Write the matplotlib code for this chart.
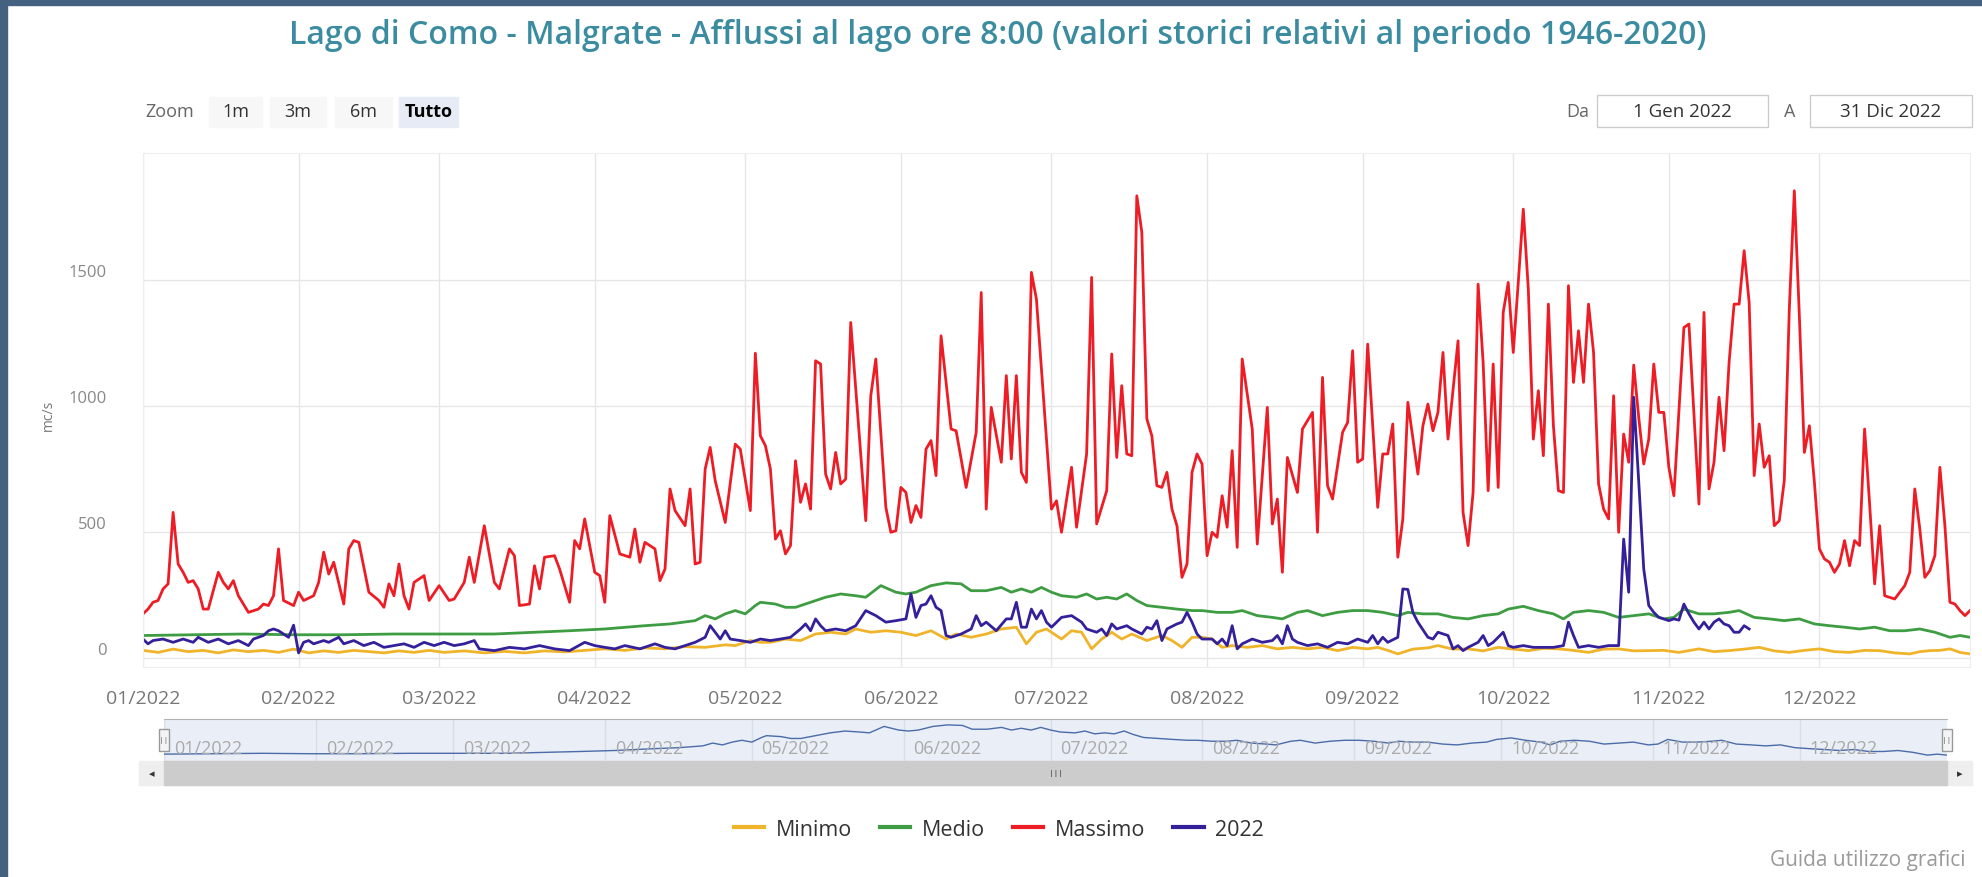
import numpy as np
import matplotlib
matplotlib.use("Agg")
import matplotlib.pyplot as plt
import matplotlib.dates as mdates
from matplotlib.patches import Rectangle

plt.rcParams['font.family'] = ['Open Sans', 'DejaVu Sans']

# --- data (day of year from 1 Jan 2022, value in mc/s) ---
giorni_max = [0, 1, 2, 3, 4, 5, 6, 7, 8, 9, 10, 11, 12, 13, 15, 16, 17, 18, 19, 21, 23, 24, 25, 26, 27, 28,
              30, 31, 32, 34, 35, 36, 37, 38, 40, 41, 42, 43, 45, 47, 48, 49, 50, 51, 52, 53, 54, 56, 57, 59,
              61, 62, 64, 65, 66, 68, 70, 71, 73, 74, 75, 77, 78, 79, 80, 82, 83, 85, 86, 87, 88, 90, 91, 92,
              93, 95, 97, 98, 99, 100, 102, 103, 104, 105, 106, 108, 109, 110, 111, 112, 113, 114, 116, 118,
              119, 121, 122, 123, 124, 125, 126, 127, 128, 129, 130, 131, 132, 133, 134, 135, 136, 137, 138,
              139, 140, 141, 144, 145, 146, 148, 149, 150, 151, 152, 153, 154, 155, 156, 157, 158, 159, 161,
              162, 164, 166, 167, 168, 169, 171, 172, 173, 174, 175, 176, 177, 178, 181, 182, 183, 185, 186,
              188, 189, 190, 192, 193, 194, 195, 196, 197, 198, 199, 200, 201, 202, 203, 204, 205, 206, 207,
              208, 209, 210, 211, 212, 213, 214, 215, 216, 217, 218, 219, 221, 222, 224, 225, 226, 227, 228,
              230, 231, 233, 234, 235, 236, 237, 239, 240, 241, 242, 243, 244, 246, 247, 248, 249, 250, 251,
              252, 254, 255, 256, 257, 258, 259, 260, 262, 263, 264, 265, 266, 267, 268, 269, 270, 271, 272,
              273, 274, 275, 276, 277, 278, 279, 280, 281, 282, 283, 284, 285, 286, 287, 288, 289, 290, 291,
              292, 293, 294, 295, 296, 297, 298, 299, 300, 301, 302, 303, 304, 305, 307, 308, 310, 311, 312,
              313, 314, 315, 316, 317, 318, 319, 320, 321, 322, 323, 324, 325, 326, 327, 328, 329, 330, 331,
              332, 333, 334, 335, 336, 337, 338, 339, 340, 341, 342, 343, 344, 345, 346, 347, 349, 351, 352,
              353, 354, 355, 356, 357, 358, 359, 360, 361, 362, 363, 364]
massimo = [175, 194, 221, 228, 274, 294, 578, 373, 340, 300, 307, 274, 194, 194, 340, 300, 274, 307, 247, 181,
           194, 214, 208, 247, 433, 228, 208, 261, 228, 247, 300, 420, 333, 380, 214, 433, 466, 459, 261, 228,
           201, 294, 247, 373, 247, 194, 300, 327, 228, 287, 228, 234, 300, 400, 300, 525, 300, 274, 433, 406,
           208, 214, 366, 274, 400, 406, 353, 221, 466, 433, 552, 340, 327, 221, 565, 413, 400, 512, 380, 459,
           433, 307, 353, 671, 585, 525, 671, 373, 380, 750, 836, 704, 538, 849, 829, 585, 1210, 882, 843, 750,
           472, 505, 413, 446, 783, 618, 691, 591, 1180, 1167, 730, 671, 816, 691, 710, 1332, 545, 1041, 1187,
           598, 499, 505, 677, 657, 538, 605, 558, 829, 863, 724, 1279, 909, 902, 677, 896, 1451, 591, 995, 777,
           1121, 790, 1121, 737, 697, 1531, 1425, 591, 624, 499, 757, 519, 810, 1511, 532, 664, 1207, 796, 1081,
           810, 803, 1835, 1690, 949, 882, 684, 677, 737, 591, 525, 320, 373, 737, 810, 770, 406, 499, 479, 644,
           519, 823, 439, 1187, 909, 452, 995, 532, 631, 340, 796, 657, 909, 975, 499, 1114, 684, 631, 896, 935,
           1220, 777, 790, 1246, 598, 810, 810, 929, 400, 552, 1015, 730, 922, 1008, 902, 975, 1213, 869, 1259,
           578, 446, 657, 1484, 1173, 664, 1167, 677, 1372, 1491, 1213, 1491, 1782, 1465, 869, 1061, 803, 1405,
           922, 664, 657, 1478, 1094, 1299, 1094, 1405, 1213, 691, 591, 552, 1041, 499, 889, 777, 1163, 955, 770,
           869, 1167, 975, 975, 757, 644, 1312, 1326, 611, 1372, 671, 777, 1035, 823, 1173, 1405, 1405, 1617,
           1412, 724, 929, 757, 803, 525, 545, 704, 1385, 1855, 1359, 816, 922, 697, 433, 393, 380, 340, 373,
           466, 366, 466, 446, 909, 611, 294, 525, 247, 234, 287, 340, 671, 512, 320, 347, 406, 757, 525, 221,
           214, 188, 168, 188]

giorni_medio = [0, 10, 20, 30, 40, 50, 59, 70, 85, 92, 100, 105, 110, 112, 114, 116, 118, 120, 122, 123, 126,
                128, 130, 133, 136, 139, 142, 144, 147, 150, 152, 154, 157, 160, 163, 165, 168, 171, 173, 175,
                177, 179, 181, 183, 186, 188, 190, 192, 194, 196, 198, 200, 203, 206, 209, 211, 214, 217, 219,
                222, 225, 227, 230, 232, 235, 238, 241, 244, 247, 250, 252, 255, 258, 261, 264, 267, 270, 272,
                275, 278, 281, 283, 285, 288, 291, 294, 297, 300, 303, 305, 307, 310, 313, 316, 318, 321, 324,
                327, 330, 333, 336, 339, 342, 345, 348, 351, 354, 357, 360, 362, 364]
medio = [89, 92, 95, 92, 92, 95, 95, 95, 108, 115, 128, 135, 148, 168, 155, 175, 188, 175, 208, 221, 214, 201,
         201, 221, 241, 254, 247, 241, 287, 261, 254, 261, 287, 298, 294, 267, 267, 280, 261, 274, 261, 280,
         261, 247, 241, 254, 234, 241, 234, 254, 228, 208, 201, 194, 188, 188, 181, 181, 188, 168, 161, 155,
         181, 188, 168, 181, 188, 188, 181, 168, 181, 175, 175, 161, 155, 168, 175, 194, 205, 188, 175, 155,
         181, 188, 181, 161, 168, 175, 155, 161, 194, 175, 175, 181, 188, 161, 155, 148, 155, 135, 128, 122,
         115, 122, 108, 108, 115, 102, 82, 89, 82]

giorni_min = [0, 3, 6, 9, 12, 15, 18, 21, 24, 27, 30, 33, 36, 39, 42, 45, 48, 51, 54, 57, 60, 64, 68, 72, 76,
              80, 84, 88, 92, 96, 100, 104, 108, 112, 116, 118, 121, 123, 125, 128, 131, 134, 137, 140, 142,
              145, 148, 151, 154, 157, 160, 162, 165, 168, 171, 174, 176, 178, 180, 183, 185, 187, 189, 191,
              193, 195, 197, 200, 203, 205, 207, 209, 211, 213, 215, 217, 220, 223, 226, 229, 232, 235, 238,
              241, 244, 246, 248, 250, 253, 256, 258, 261, 264, 267, 270, 273, 276, 279, 282, 285, 288, 291,
              294, 297, 300, 303, 306, 310, 313, 316, 319, 322, 325, 328, 331, 334, 337, 340, 343, 346, 349,
              352, 354, 356, 358, 360, 362, 364]
minimo = [30, 22, 35, 25, 30, 20, 32, 25, 30, 22, 35, 20, 28, 22, 30, 25, 20, 28, 22, 30, 22, 28, 20, 26, 20,
          28, 24, 30, 36, 30, 40, 36, 45, 42, 52, 49, 69, 62, 62, 75, 69, 95, 102, 95, 115, 102, 108, 102, 89,
          108, 75, 95, 82, 95, 115, 122, 56, 102, 115, 75, 108, 102, 36, 75, 102, 75, 95, 69, 89, 69, 42, 82,
          82, 75, 42, 49, 42, 49, 36, 42, 36, 42, 29, 42, 36, 42, 30, 16, 35, 40, 49, 35, 36, 28, 42, 35, 29,
          38, 36, 30, 22, 35, 36, 28, 29, 30, 22, 36, 25, 29, 35, 42, 28, 22, 30, 36, 25, 22, 30, 29, 20, 16,
          25, 29, 30, 36, 22, 16]

giorni_2022 = [0, 1, 2, 4, 6, 8, 10, 11, 13, 15, 17, 19, 21, 22, 24, 25, 26, 27, 28, 29, 30, 31, 32, 33, 34,
               36, 37, 39, 40, 42, 44, 46, 48, 50, 52, 54, 56, 58, 60, 62, 64, 66, 67, 70, 73, 76, 79, 82, 85,
               88, 90, 92, 94, 96, 99, 102, 104, 106, 108, 110, 112, 113, 114, 115, 116, 117, 119, 121, 123,
               125, 127, 129, 131, 132, 133, 134, 135, 136, 138, 140, 142, 144, 146, 148, 150, 152, 153, 154,
               155, 156, 157, 158, 159, 160, 161, 163, 165, 166, 167, 168, 170, 172, 173, 174, 175, 176, 177,
               178, 179, 180, 181, 183, 185, 187, 188, 190, 191, 192, 193, 194, 196, 197, 199, 200, 201, 202,
               203, 204, 206, 207, 208, 209, 210, 211, 213, 214, 215, 216, 217, 218, 219, 221, 223, 225, 226,
               227, 228, 229, 230, 232, 234, 236, 238, 240, 242, 244, 245, 246, 247, 248, 250, 251, 252, 253,
               254, 256, 257, 258, 260, 261, 262, 263, 264, 266, 267, 268, 269, 271, 272, 273, 275, 277, 279,
               281, 283, 284, 285, 286, 288, 290, 292, 294, 295, 296, 297, 298, 299, 300, 301, 302, 303, 304,
               305, 306, 307, 308, 309, 310, 311, 312, 313, 314, 315, 316, 317, 318, 319, 320]
anno_2022 = [75, 56, 69, 75, 62, 75, 62, 82, 62, 75, 56, 69, 49, 75, 89, 108, 115, 108, 95, 82, 130, 20, 62,
             69, 56, 69, 62, 82, 56, 69, 49, 62, 42, 49, 56, 42, 62, 49, 62, 49, 56, 69, 36, 29, 42, 36, 49,
             36, 29, 62, 49, 42, 36, 49, 36, 56, 42, 36, 49, 62, 82, 128, 102, 75, 108, 75, 69, 62, 75, 69,
             75, 82, 115, 135, 108, 155, 128, 108, 115, 108, 128, 188, 168, 142, 148, 155, 254, 161, 208, 214,
             247, 201, 188, 89, 82, 95, 115, 168, 128, 142, 108, 155, 155, 221, 122, 122, 194, 155, 188, 142,
             122, 161, 168, 142, 115, 102, 115, 89, 135, 115, 128, 115, 95, 122, 115, 148, 69, 115, 135, 142,
             181, 142, 95, 75, 75, 56, 75, 49, 128, 36, 56, 75, 62, 69, 89, 56, 128, 75, 62, 49, 56, 42, 62,
             56, 75, 62, 89, 56, 82, 62, 82, 274, 272, 181, 142, 82, 75, 102, 89, 36, 49, 29, 42, 62, 89, 49,
             62, 102, 49, 42, 49, 42, 42, 42, 49, 142, 89, 42, 49, 42, 49, 49, 472, 261, 1035, 700, 353, 208,
             181, 161, 155, 148, 155, 150, 214, 175, 142, 115, 142, 115, 142, 155, 135, 128, 102, 102, 128, 115]

titolo = "Lago di Como - Malgrate - Afflussi al lago ore 8:00 (valori storici relativi al periodo 1946-2020)"
pulsanti = ["1m", "3m", "6m", "Tutto"]


def to_dates(giorni):
    return np.datetime64('2022-01-01') + np.array(giorni, dtype='timedelta64[D]')


W, H = 1982, 878
fig = plt.figure(figsize=(W / 100, H / 100), dpi=100)
fig.patch.set_facecolor('white')


def fx(px):
    return px / W


def fy(py):
    return 1 - py / H


# dark frame of the screenshot
fig.patches.append(Rectangle((0, 0), fx(7), 1, transform=fig.transFigure, color='#44627f', zorder=0))
fig.patches.append(Rectangle((0, fy(6)), 1, fx(W), transform=fig.transFigure, color='#44627f', zorder=0))

fig.text(fx(998), fy(36), titolo, ha='center', va='center', fontsize=23, color='#3b8ca0',
         fontweight='semibold')

# range selector buttons
fig.text(fx(170), fy(112), "Zoom", ha='center', va='center', fontsize=13, color='#666666')
bx = [(209, 262), (270, 326), (335, 392), (399, 458)]
for (x0, x1), lab in zip(bx, pulsanti):
    sel = lab == "Tutto"
    fig.patches.append(Rectangle((fx(x0), fy(128)), fx(x1 - x0), 30 / H, transform=fig.transFigure,
                                 color='#e6ebf5' if sel else '#f7f7f7', zorder=1))
    fig.text(fx((x0 + x1) / 2), fy(112), lab, ha='center', va='center', fontsize=13,
             color='#000000' if sel else '#333333', fontweight='bold' if sel else 'normal')

# date input boxes
fig.text(fx(1578), fy(112), "Da", ha='center', va='center', fontsize=13, color='#666666')
fig.text(fx(1790), fy(112), "A", ha='center', va='center', fontsize=13, color='#666666')
for (x0, x1), lab in zip([(1597, 1768), (1810, 1972)], ["1 Gen 2022", "31 Dic 2022"]):
    fig.patches.append(Rectangle((fx(x0), fy(128)), fx(x1 - x0), 32 / H, transform=fig.transFigure,
                                 facecolor='white', edgecolor='#cccccc', lw=1, zorder=1))
    fig.text(fx((x0 + x1) / 2), fy(112), lab, ha='center', va='center', fontsize=13.5, color='#333333')

# --- main chart ---
ax = fig.add_axes([fx(143), fy(668), fx(1970 - 143), (668 - 154) / H])
ax.plot(to_dates(giorni_min), minimo, color='#f0b42a', lw=2, label='Minimo')
ax.plot(to_dates(giorni_medio), medio, color='#3e9c42', lw=2, label='Medio')
ax.plot(to_dates(giorni_max), massimo, color='#ee1c24', lw=2, label='Massimo')
ax.plot(to_dates(giorni_2022), anno_2022, color='#34209a', lw=2, label='2022')

ax.set_xlim(np.datetime64('2022-01-01'), np.datetime64('2022-12-31'))
ax.set_ylim(-36, 2005)
ax.set_yticks([0, 500, 1000, 1500])
ax.xaxis.set_major_locator(mdates.MonthLocator())
ax.xaxis.set_major_formatter(mdates.DateFormatter('%m/%Y'))
ax.grid(True, color='#e6e6e6', lw=1)
ax.set_axisbelow(True)
for s in ax.spines.values():
    s.set_color('#eeeeee')
ax.tick_params(axis='both', length=0, colors='#777777')
ax.tick_params(axis='x', pad=16, labelsize=14)
ax.tick_params(axis='y', pad=26, labelsize=12, colors='#888888')
for t in ax.get_yticklabels():
    t.set_va('bottom')
fig.text(fx(48), fy(415), "mc/s", rotation=90, ha='center', va='center', fontsize=10, color='#777777')

# --- navigator ---
nav = fig.add_axes([fx(164), fy(762), fx(1947 - 164), 42 / H])
nav.set_facecolor('#e9eef7')
nav.plot(to_dates(giorni_medio), medio, color='#4b6ca8', lw=1)
nav.set_xlim(np.datetime64('2022-01-01'), np.datetime64('2022-12-31'))
nav.set_ylim(40, 340)
nav.xaxis.set_major_locator(mdates.MonthLocator())
nav.grid(True, axis='x', color='#d8dee9', lw=1)
nav.set_xticklabels([])
nav.set_yticks([])
nav.tick_params(length=0)
for s in nav.spines.values():
    s.set_visible(False)
nav.spines['top'].set_visible(True)
nav.spines['top'].set_color('#b2b1b6')
for m in range(1, 13):
    d = np.datetime64('2022-%02d-01' % m)
    nav.text(d + np.timedelta64(2, 'D'), 0.32, '%02d/2022' % m, transform=nav.get_xaxis_transform(),
             ha='left', va='center', fontsize=13, color='#aaaaaa')
# handles
for hx in (164, 1947):
    fig.patches.append(Rectangle((fx(hx - 5), fy(752)), fx(10), 22 / H, transform=fig.transFigure,
                                 facecolor='#f4f4f4', edgecolor='#999999', lw=1, zorder=5))
    fig.text(fx(hx), fy(741), "||", ha='center', va='center', fontsize=6, color='#666666', zorder=6)

# scrollbar
fig.patches.append(Rectangle((fx(139), fy(786)), fx(1972 - 139), 24 / H, transform=fig.transFigure,
                             color='#eeeeee', zorder=1))
fig.patches.append(Rectangle((fx(164), fy(786)), fx(1947 - 164), 24 / H, transform=fig.transFigure,
                             color='#cccccc', zorder=2))
fig.text(fx(152), fy(774), "\u25c2", ha='center', va='center', fontsize=8, color='#333333',
         family='DejaVu Sans')
fig.text(fx(1960), fy(774), "\u25b8", ha='center', va='center', fontsize=8, color='#333333',
         family='DejaVu Sans')
fig.text(fx(1056), fy(774), "|||", ha='center', va='center', fontsize=6, color='#333333')

# legend
leg = ax.legend(loc='center', bbox_to_anchor=(fx(999), fy(830)), bbox_transform=fig.transFigure, ncol=4,
                frameon=False, fontsize=15.5, handlelength=1.4, handletextpad=0.55, columnspacing=1.3)
for t in leg.get_texts():
    t.set_color('#333333')
for l in leg.get_lines():
    l.set_linewidth(3)

fig.text(fx(1966), fy(861), "Guida utilizzo grafici", ha='right', va='center', fontsize=15, color='#9a9a9a')

fig.savefig('out.png', dpi=100)
